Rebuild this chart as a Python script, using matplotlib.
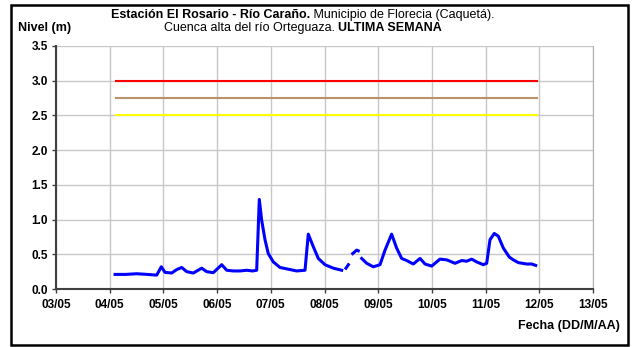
import numpy as np
import matplotlib
matplotlib.use("Agg")
import matplotlib.pyplot as plt
from matplotlib.patches import Rectangle

plt.rcParams['font.family'] = ['Liberation Sans', 'DejaVu Sans']

# time in days since 03/05 00:00, level in m (NaN = missing data)
dias = [1.10, 1.30, 1.50, 1.70, 1.875, 1.961, 2.030, 2.155, 2.248, 2.341, 2.434,
        2.557, 2.713, 2.806, 2.929, 3.086, 3.179, 3.302, 3.426, 3.551, 3.660,
        3.737, 3.786, 3.830, 3.892, 3.953, 4.047, 4.171, 4.358, 4.482, 4.637,
        4.698, 4.791, 4.885, 5.009, 5.164, 5.320, 5.360, 5.400, 5.445, 5.500,
        5.525, 5.600, 5.629, 5.660, 5.693, 5.786, 5.909, 6.034, 6.127, 6.250,
        6.343, 6.437, 6.531, 6.654, 6.779, 6.872, 6.996, 7.150, 7.276,
        7.430, 7.555, 7.646, 7.741, 7.834, 7.957, 8.020, 8.082, 8.162, 8.237,
        8.330, 8.441, 8.516, 8.609, 8.765, 8.858, 8.933]
nivel = [0.21, 0.21, 0.22, 0.21, 0.20, 0.32, 0.24, 0.23, 0.28, 0.31, 0.25,
         0.23, 0.30, 0.25, 0.235, 0.35, 0.27, 0.26, 0.26, 0.27, 0.26,
         0.27, 1.29, 0.99, 0.71, 0.51, 0.39, 0.31, 0.28, 0.26, 0.27,
         0.79, 0.61, 0.44, 0.35, 0.30, 0.27, np.nan, 0.30, 0.35, np.nan,
         0.51, 0.56, 0.55, np.nan, 0.44, 0.37, 0.32, 0.35, 0.56, 0.79,
         0.59, 0.44, 0.41, 0.36, 0.44, 0.36, 0.33, 0.43, 0.42,
         0.37, 0.41, 0.40, 0.43, 0.39, 0.35, 0.37, 0.71, 0.80, 0.76,
         0.59, 0.46, 0.42, 0.38, 0.36, 0.36, 0.34]

umbrales = [3.0, 2.75, 2.5]
colores_umbral = ['#FF0000', '#B8926A', '#FFFF00']
umbral_inicio, umbral_fin = 1.12, 8.96

etiquetas_x = ['03/05', '04/05', '05/05', '06/05', '07/05', '08/05',
               '09/05', '10/05', '11/05', '12/05', '13/05']

W, H = 632, 347
fig = plt.figure(figsize=(W / 100, H / 100), dpi=100)
ax = fig.add_axes([56 / W, 1 - 289 / H, (593 - 56) / W, (289 - 46) / H])

for u, c in zip(umbrales, colores_umbral):
    ax.plot([umbral_inicio, umbral_fin], [u, u], color=c, lw=1.5, zorder=3)

ax.plot(dias, nivel, color='#0000FF', lw=2.2, zorder=4)

ax.set_xlim(0, 10)
ax.set_ylim(0, 3.5)
ax.set_xticks(range(11))
ax.set_xticklabels(etiquetas_x)
ax.set_yticks(np.arange(0, 3.51, 0.5))
ax.set_yticklabels([f'{v:.1f}' for v in np.arange(0, 3.51, 0.5)])
ax.grid(True, color='#C8C8C8', lw=1.0)
ax.set_axisbelow(True)
for lbl in ax.get_xticklabels() + ax.get_yticklabels():
    lbl.set_fontweight('bold')
    lbl.set_fontsize(8.5)
ax.tick_params(length=3, width=1, color='#404040')
ax.tick_params(axis='x', pad=4)
ax.tick_params(axis='y', pad=3)
ax.spines['top'].set_visible(False)
ax.spines['right'].set_color('#B0B0B0')
ax.spines['left'].set_color('#404040')
ax.spines['bottom'].set_color('#404040')
ax.spines['left'].set_linewidth(1.5)
ax.spines['bottom'].set_linewidth(1.5)

# title (mixed bold / normal), each line centered
fs = 9
centro = 303
lineas = [
    (('Estación El Rosario - Río Caraño.', 'bold'),
     (' Municipio de Florecia (Caquetá).', 'normal'), 18),
    (('Cuenca alta del río Orteguaza. ', 'normal'),
     ('ULTIMA SEMANA', 'bold'), 31),
]
renderer = fig.canvas.get_renderer()
for (txt_a, w_a), (txt_b, w_b), y in lineas:
    ta = fig.text(0, 1 - y / H, txt_a, fontsize=fs, fontweight=w_a,
                  ha='left', va='baseline')
    tb = fig.text(0, 1 - y / H, txt_b, fontsize=fs, fontweight=w_b,
                  ha='left', va='baseline')
    wa = ta.get_window_extent(renderer).width
    wb = tb.get_window_extent(renderer).width
    x0 = centro - (wa + wb) / 2
    ta.set_x(x0 / W)
    tb.set_x((x0 + wa) / W)

fig.text(18 / W, 1 - 31 / H, 'Nivel (m)', fontsize=fs, fontweight='bold',
         ha='left', va='baseline')
fig.text(620 / W, 1 - 329 / H, 'Fecha (DD/M/AA)', fontsize=fs,
         fontweight='bold', ha='right', va='baseline')

fig.patches.append(Rectangle((11 / W, 1 - 345 / H), (628 - 11) / W,
                             (345 - 5) / H, transform=fig.transFigure,
                             fill=False, edgecolor='black', lw=1.8))

fig.savefig('out.png', dpi=100)
